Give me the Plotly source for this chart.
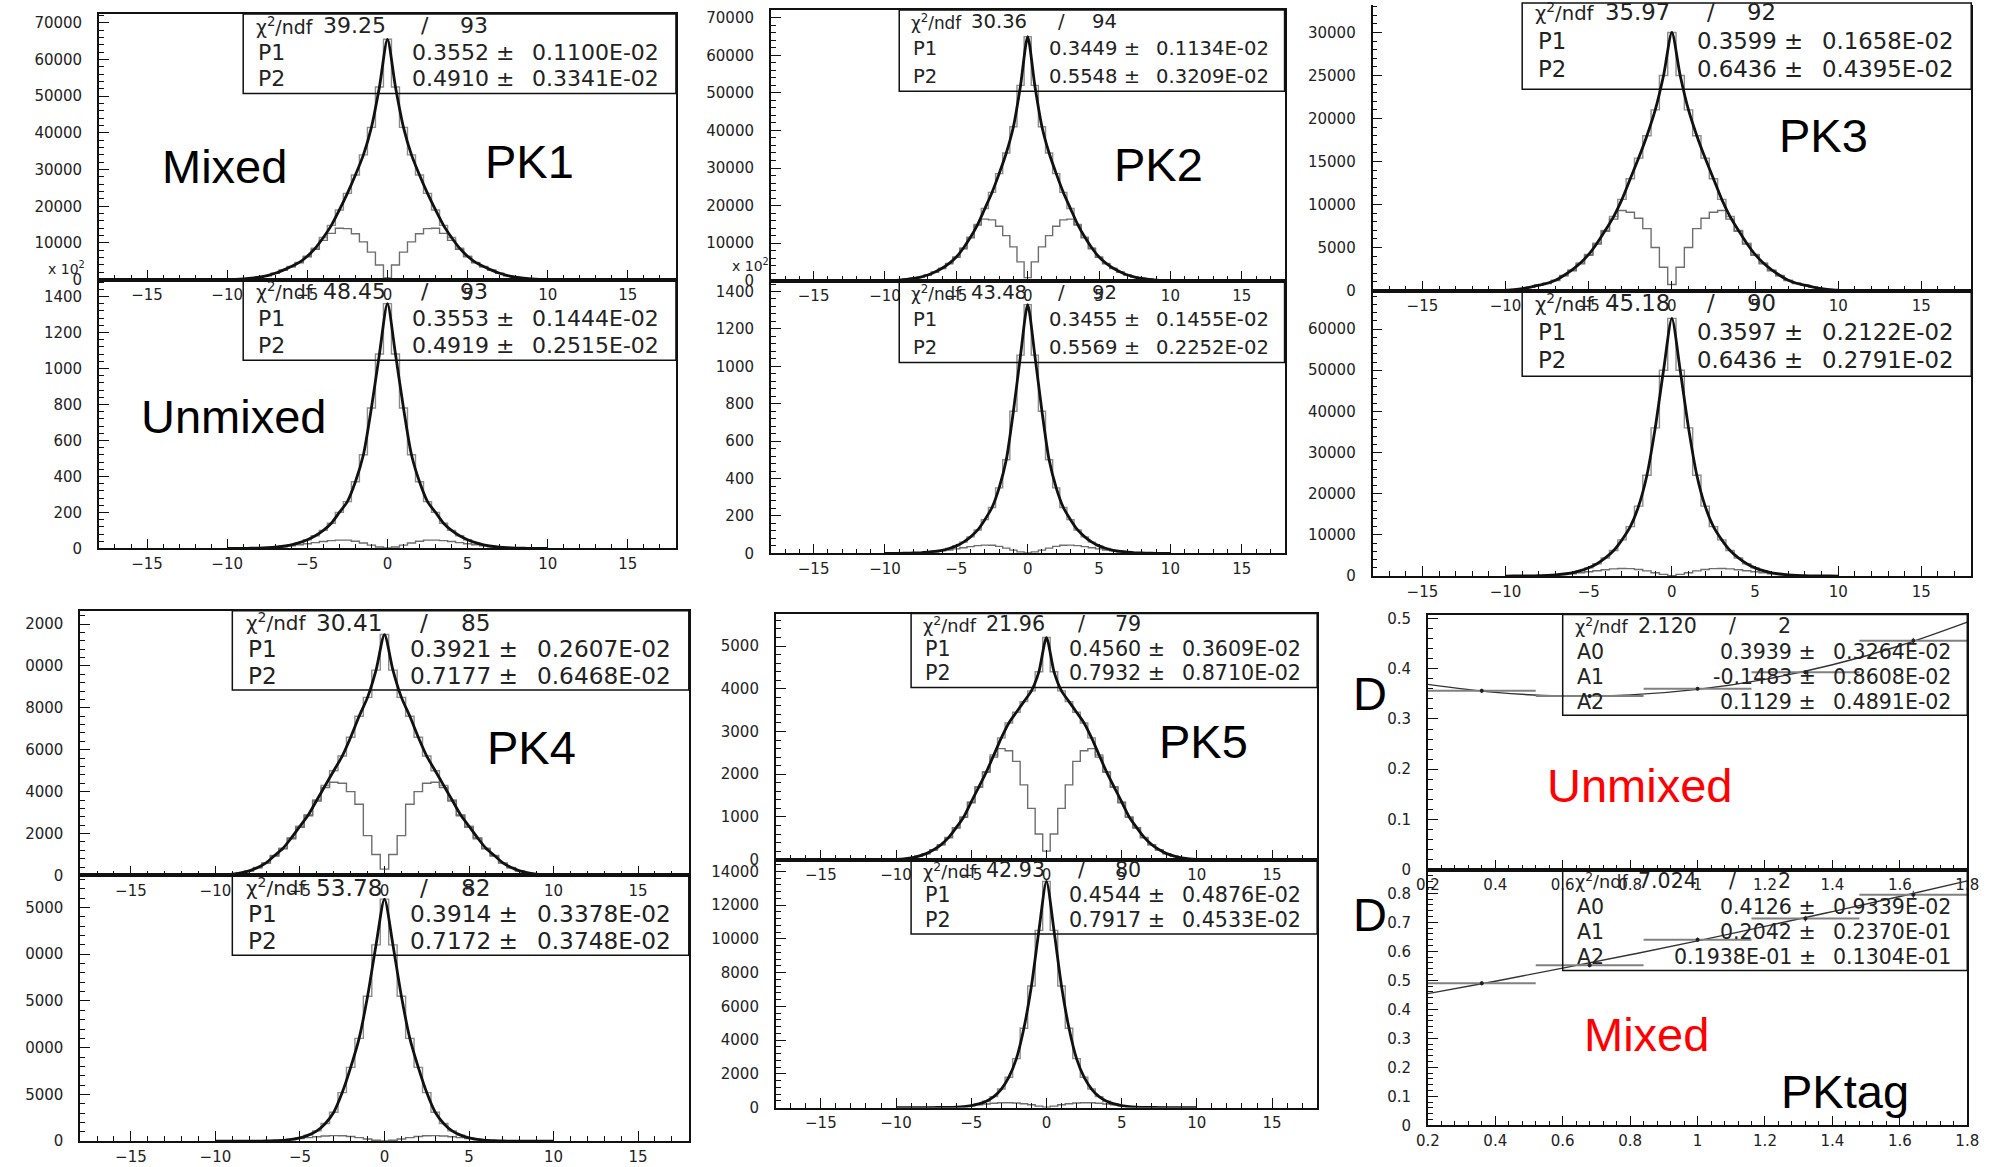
import plotly.graph_objects as go

W, H = 2003, 1167

# ---------------- data ----------------
BIN_CENTRES = [round(-10 + 0.5 * i, 1) for i in range(41)]

PK1_MIX_MAIN = [30, 90, 200, 400, 680, 1100, 1750, 2600, 3600, 4700, 6400, 8600, 11500, 14800, 19000, 23500, 28500, 34000, 41500, 52500,
                65500,
                52500, 41500, 34000, 28500, 23500, 19000, 14800, 11500, 8600, 6400, 4700, 3600, 2600, 1750, 1100, 680, 400, 200, 90, 30]
PK1_MIX_DIP = [30, 85, 195, 390, 660, 1070, 1700, 2550, 3500, 4600, 6200, 8300, 10700, 12600, 14000, 13900, 12500, 10300, 7500, 4000,
               500,
               4000, 7500, 10300, 12500, 13900, 14000, 12600, 10700, 8300, 6200, 4600, 3500, 2550, 1700, 1070, 660, 390, 195, 85, 30]
PK1_UNMIX_MAIN = [0, 0, 0, 1, 2, 4, 7, 12, 20, 32, 48, 70, 100, 140, 200, 260, 370, 520, 780, 1080,
                  1360,
                  1080, 780, 520, 370, 260, 200, 140, 100, 70, 48, 32, 20, 12, 7, 4, 2, 1, 0, 0, 0]
PK1_UNMIX_DIP = [0, 0, 0, 1, 2, 4, 6, 9, 14, 20, 26, 32, 38, 43, 46, 46, 40, 30, 18, 8,
                 2,
                 8, 18, 30, 40, 46, 46, 43, 38, 32, 26, 20, 14, 9, 6, 4, 2, 1, 0, 0, 0]

PK2_MIX_MAIN = [30, 70, 160, 320, 580, 950, 1500, 2300, 3300, 4600, 6300, 8700, 11600, 15000, 19200, 23500, 28500, 34000, 41000, 52000,
                65000,
                52000, 41000, 34000, 28500, 23500, 19200, 15000, 11600, 8700, 6300, 4600, 3300, 2300, 1500, 950, 580, 320, 160, 70, 30]
PK2_MIX_DIP = [30, 70, 155, 315, 570, 940, 1480, 2250, 3200, 4500, 6200, 8500, 11400, 14800, 16400, 16200, 14500, 12000, 9000, 5000,
               800,
               5000, 9000, 12000, 14500, 16200, 16400, 14800, 11400, 8500, 6200, 4500, 3200, 2250, 1480, 940, 570, 315, 155, 70, 30]
PK2_UNMIX_MAIN = [0, 0, 0, 1, 2, 3, 6, 10, 16, 26, 40, 60, 88, 125, 180, 245, 350, 500, 760, 1060,
                  1330,
                  1060, 760, 500, 350, 245, 180, 125, 88, 60, 40, 26, 16, 10, 6, 3, 2, 1, 0, 0, 0]
PK2_UNMIX_DIP = [0, 0, 0, 1, 2, 3, 5, 8, 13, 18, 24, 30, 36, 41, 44, 43, 37, 28, 17, 8,
                 2,
                 8, 17, 28, 37, 43, 44, 41, 36, 30, 24, 18, 13, 8, 5, 3, 2, 1, 0, 0, 0]

PK3_MIX_MAIN = [40, 110, 220, 400, 620, 850, 1200, 1750, 2400, 3200, 4200, 5500, 7000, 8600, 10600, 13000, 15400, 18000, 21000, 25000,
                30000,
                25000, 21000, 18000, 15400, 13000, 10600, 8600, 7000, 5500, 4200, 3200, 2400, 1750, 1200, 850, 620, 400, 220, 110, 40]
PK3_MIX_DIP = [40, 100, 210, 380, 600, 820, 1150, 1700, 2300, 3100, 4100, 5400, 6900, 8300, 9300, 9100, 8400, 7200, 5000, 2700,
               700,
               2700, 5000, 7200, 8400, 9100, 9300, 8300, 6900, 5400, 4100, 3100, 2300, 1700, 1150, 820, 600, 380, 210, 100, 40]
PK3_UNMIX_MAIN = [0, 10, 20, 50, 90, 170, 300, 500, 800, 1300, 2000, 3000, 4400, 6200, 8800, 12000, 17000, 24500, 36000, 50000,
                  62600,
                  50000, 36000, 24500, 17000, 12000, 8800, 6200, 4400, 3000, 2000, 1300, 800, 500, 300, 170, 90, 50, 20, 10, 0]
PK3_UNMIX_DIP = [0, 10, 20, 45, 85, 150, 240, 380, 560, 800, 1050, 1300, 1550, 1750, 1850, 1800, 1600, 1250, 800, 400,
                 100,
                 400, 800, 1250, 1600, 1800, 1850, 1750, 1550, 1300, 1050, 800, 560, 380, 240, 150, 85, 45, 20, 10, 0]

PK4_MIX_MAIN = [10, 25, 60, 120, 220, 380, 600, 950, 1300, 1800, 2350, 2900, 3600, 4300, 5000, 5700, 6600, 7600, 8500, 9800,
                11500,
                9800, 8500, 7600, 6600, 5700, 5000, 4300, 3600, 2900, 2350, 1800, 1300, 950, 600, 380, 220, 120, 60, 25, 10]
PK4_MIX_DIP = [10, 24, 58, 118, 215, 370, 590, 930, 1270, 1750, 2300, 2850, 3550, 4200, 4450, 4400, 4000, 3400, 1900, 1000,
               300,
               1000, 1900, 3400, 4000, 4400, 4450, 4200, 3550, 2850, 2300, 1750, 1270, 930, 590, 370, 215, 118, 58, 24, 10]
PK4_UNMIX_MAIN = [0, 0, 1, 2, 5, 12, 25, 50, 100, 190, 360, 650, 1100, 1900, 3100, 5200, 7900, 11000, 15500, 21000,
                  25900,
                  21000, 15500, 11000, 7900, 5200, 3100, 1900, 1100, 650, 360, 190, 100, 50, 25, 12, 5, 2, 1, 0, 0]
PK4_UNMIX_DIP = [0, 0, 1, 2, 5, 12, 25, 50, 100, 190, 280, 380, 480, 560, 600, 580, 500, 380, 230, 100,
                 20,
                 100, 230, 380, 500, 580, 600, 560, 480, 380, 280, 190, 100, 50, 25, 12, 5, 2, 1, 0, 0]

PK5_MIX_MAIN = [5, 15, 40, 80, 140, 230, 350, 520, 750, 1000, 1350, 1700, 2050, 2450, 2850, 3200, 3450, 3700, 3950, 4400,
                5200,
                4400, 3950, 3700, 3450, 3200, 2850, 2450, 2050, 1700, 1350, 1000, 750, 520, 350, 230, 140, 80, 40, 15, 5]
PK5_MIX_DIP = [5, 15, 38, 78, 138, 225, 345, 510, 740, 990, 1330, 1700, 2050, 2400, 2600, 2550, 2300, 1750, 1200, 600,
               200,
               600, 1200, 1750, 2300, 2550, 2600, 2400, 2050, 1700, 1330, 990, 740, 510, 345, 225, 138, 78, 38, 15, 5]
PK5_UNMIX_MAIN = [0, 0, 0, 1, 2, 4, 8, 15, 30, 60, 120, 220, 380, 650, 1100, 1800, 2900, 4700, 7200, 10500,
                  13400,
                  10500, 7200, 4700, 2900, 1800, 1100, 650, 380, 220, 120, 60, 30, 15, 8, 4, 2, 1, 0, 0, 0]
PK5_UNMIX_DIP = [0, 0, 0, 1, 2, 4, 8, 15, 30, 55, 100, 160, 210, 260, 290, 290, 270, 230, 170, 90,
                 20,
                 90, 170, 230, 270, 290, 290, 260, 210, 160, 100, 55, 30, 15, 8, 4, 2, 1, 0, 0, 0]

TAG_X = [0.36, 0.68, 1.00, 1.32, 1.64]
TAG_HALF_WIDTH = [0.16, 0.16, 0.16, 0.16, 0.16]
TAG_UNMIX = [0.356, 0.346, 0.360, 0.393, 0.456]
TAG_UNMIX_ERR = [0.004, 0.003, 0.003, 0.004, 0.006]
TAG_MIX = [0.490, 0.552, 0.640, 0.713, 0.795]
TAG_MIX_ERR = [0.008, 0.007, 0.008, 0.010, 0.014]
FIT_X = [0.2, 0.4, 0.6, 0.8, 1.0, 1.2, 1.4, 1.6, 1.8]
FIT_UNMIX = [0.369, 0.353, 0.346, 0.348, 0.359, 0.379, 0.408, 0.446, 0.493]
FIT_MIX = [0.454, 0.497, 0.542, 0.588, 0.636, 0.686, 0.737, 0.789, 0.843]

STATS = {
    'pk1_mix': [('39.25', '93'), ('P1', '0.3552', '0.1100E-02'), ('P2', '0.4910', '0.3341E-02')],
    'pk1_unmix': [('48.45', '93'), ('P1', '0.3553', '0.1444E-02'), ('P2', '0.4919', '0.2515E-02')],
    'pk2_mix': [('30.36', '94'), ('P1', '0.3449', '0.1134E-02'), ('P2', '0.5548', '0.3209E-02')],
    'pk2_unmix': [('43.48', '92'), ('P1', '0.3455', '0.1455E-02'), ('P2', '0.5569', '0.2252E-02')],
    'pk3_mix': [('35.97', '92'), ('P1', '0.3599', '0.1658E-02'), ('P2', '0.6436', '0.4395E-02')],
    'pk3_unmix': [('45.18', '90'), ('P1', '0.3597', '0.2122E-02'), ('P2', '0.6436', '0.2791E-02')],
    'pk4_mix': [('30.41', '85'), ('P1', '0.3921', '0.2607E-02'), ('P2', '0.7177', '0.6468E-02')],
    'pk4_unmix': [('53.78', '82'), ('P1', '0.3914', '0.3378E-02'), ('P2', '0.7172', '0.3748E-02')],
    'pk5_mix': [('21.96', '79'), ('P1', '0.4560', '0.3609E-02'), ('P2', '0.7932', '0.8710E-02')],
    'pk5_unmix': [('42.93', '80'), ('P1', '0.4544', '0.4876E-02'), ('P2', '0.7917', '0.4533E-02')],
    'tag_unmix': [('2.120', '2'), ('A0', '0.3939', '0.3264E-02'), ('A1', '-0.1483', '0.8608E-02'),
                  ('A2', '0.1129', '0.4891E-02')],
    'tag_mix': [('7.024', '2'), ('A0', '0.4126', '0.9339E-02'), ('A1', '0.2042', '0.2370E-01'),
                ('A2', '0.1938E-01', '0.1304E-01')],
}

# panel geometry in page pixels: x0, x1, ytop, ybottom ; y-range max ; y major step ; text shift
HIST_PANELS = [
    ('pk1_mix', (88, 672, 9, 278), 72420, 10000, PK1_MIX_MAIN, PK1_MIX_DIP, -3),
    ('pk1_unmix', (88, 672, 278, 550), 1493, 200, PK1_UNMIX_MAIN, PK1_UNMIX_DIP, -3),
    ('pk2_mix', (768, 1288, 5, 279), 72100, 10000, PK2_MIX_MAIN, PK2_MIX_DIP, -3),
    ('pk2_unmix', (768, 1288, 279, 555), 1458, 200, PK2_UNMIX_MAIN, PK2_UNMIX_DIP, -3),
    ('pk3_mix', (1377, 1983, -2, 289), 33200, 5000, PK3_MIX_MAIN, PK3_MIX_DIP, -7),
    ('pk3_unmix', (1377, 1983, 289, 578), 69360, 10000, PK3_UNMIX_MAIN, PK3_UNMIX_DIP, -3),
    ('pk4_mix', (69, 685, 613, 881), 12640, 2000, PK4_MIX_MAIN, PK4_MIX_DIP, -3),
    ('pk4_unmix', (69, 685, 881, 1150), 28430, 5000, PK4_UNMIX_MAIN, PK4_UNMIX_DIP, -3),
    ('pk5_mix', (773, 1321, 616, 865), 5760, 1000, PK5_MIX_MAIN, PK5_MIX_DIP, -3),
    ('pk5_unmix', (773, 1321, 865, 1116), 14690, 2000, PK5_UNMIX_MAIN, PK5_UNMIX_DIP, -3),
]
TAG_PANELS = [
    ('tag_unmix', (1433, 1979, 617, 875), 0.508, TAG_UNMIX, TAG_UNMIX_ERR, FIT_UNMIX),
    ('tag_mix', (1433, 1979, 875, 1134), 0.882, TAG_MIX, TAG_MIX_ERR, FIT_MIX),
]

fig = go.Figure()
TICKFONT = dict(family='DejaVu Sans', size=15, color='#222')
AXCOL = '#111'


def px_x(x):
    return x / W


def px_y(y):
    return 1 - y / H


def set_axes(i, geom, xr, yr, xdt, x0tick, ydt, xminor, yminor, yfmt):
    x0, x1, yt, yb = geom
    xa = 'xaxis' if i == 1 else f'xaxis{i}'
    ya = 'yaxis' if i == 1 else f'yaxis{i}'
    xref = 'x' if i == 1 else f'x{i}'
    yref = 'y' if i == 1 else f'y{i}'
    common = dict(showline=True, linecolor=AXCOL, linewidth=1.6, showgrid=False,
                  zeroline=False, ticks='inside', ticklen=10, tickwidth=1.2, tickcolor=AXCOL,
                  tickfont=TICKFONT, fixedrange=True)
    fig.update_layout(**{
        xa: dict(domain=[px_x(x0), px_x(x1)], range=xr, anchor=yref, dtick=xdt, tick0=x0tick,
                 mirror=(yt >= 0),
                 minor=dict(ticks='inside', ticklen=5, dtick=xminor, tick0=x0tick, tickcolor=AXCOL,
                            showgrid=False),
                 ticklabelstandoff=1, **common),
        ya: dict(domain=[px_y(yb), min(1.0, px_y(yt))], range=yr, anchor=xref, dtick=ydt, tick0=0,
                 tickformat=yfmt, mirror=True,
                 minor=dict(ticks='inside', ticklen=5, dtick=yminor, tick0=0, tickcolor=AXCOL,
                            showgrid=False),
                 ticklabelstandoff=12, **common),
    })
    return xref, yref


def ann(x, y, text, size, xanchor='left', color='#222', family='DejaVu Sans'):
    fig.add_annotation(x=px_x(x), y=px_y(y), xref='paper', yref='paper', text=text,
                       showarrow=False, xanchor=xanchor, yanchor='middle',
                       font=dict(family=family, size=size, color=color))


shapes = []


def stats_box(geom, rows, frac, shift):
    x0, x1, yt, yb = geom
    pw = x1 - x0
    bx0 = x0 + 0.25 * pw
    bx1 = x1
    bw = bx1 - bx0
    by0 = yt
    by1 = yt + frac * (yb - yt)
    shapes.append(dict(type='rect', xref='paper', yref='paper', x0=px_x(bx0), x1=px_x(bx1),
                       y0=px_y(by1), y1=px_y(by0), line=dict(color=AXCOL, width=1.5),
                       fillcolor='rgba(0,0,0,0)', layer='above'))
    fs = 22 * pw / 584
    rh = (by1 - by0) / len(rows)
    for k, row in enumerate(rows):
        yc = by0 + rh * (k + 0.55) + shift
        if k == 0:
            chi2, ndf = row
            ann(bx0 + 0.025 * bw, yc, 'χ<sup>2</sup>/ndf', fs * 0.86)
            ann(bx0 + 0.18 * bw, yc, chi2, fs)
            ann(bx0 + 0.42 * bw, yc, '/', fs, 'center')
            ann(bx0 + 0.57 * bw, yc, ndf, fs, 'right')
        else:
            name, val, err = row
            ann(bx0 + 0.03 * bw, yc, name, fs)
            ann(bx1 - 0.37 * bw, yc, val + ' ±', fs, 'right')
            ann(bx1 - 0.035 * bw, yc, err, fs, 'right')


i = 0
for key, geom, ymax, ydt, main, dip, shift in HIST_PANELS:
    i += 1
    xr, yr = set_axes(i, geom, [-18, 18], [0, ymax], 5, 0, ydt, 1, ydt / 5, 'd')
    fig.add_trace(go.Scatter(x=BIN_CENTRES, y=main, mode='lines', xaxis=xr, yaxis=yr,
                             line=dict(shape='hvh', color='#8c8c8c', width=1.4), hoverinfo='skip'))
    fig.add_trace(go.Scatter(x=BIN_CENTRES, y=dip, mode='lines', xaxis=xr, yaxis=yr,
                             line=dict(shape='hvh', color='#6e6e6e', width=1.4), hoverinfo='skip'))
    fig.add_trace(go.Scatter(x=BIN_CENTRES, y=main, mode='lines', xaxis=xr, yaxis=yr,
                             line=dict(shape='spline', smoothing=0.7, color='#111', width=2.8),
                             hoverinfo='skip'))
    stats_box(geom, STATS[key], 0.30, shift)

for key, geom, ymax, vals, errs, fit in TAG_PANELS:
    i += 1
    xr, yr = set_axes(i, geom, [0.2, 1.8], [0, ymax], 0.2, 0.2, 0.1, 0.04, 0.02, '')
    fig.add_trace(go.Scatter(x=FIT_X, y=fit, mode='lines', xaxis=xr, yaxis=yr,
                             line=dict(shape='spline', color='#333', width=1.4), hoverinfo='skip'))
    fig.add_trace(go.Scatter(x=TAG_X, y=vals, mode='markers', xaxis=xr, yaxis=yr,
                             marker=dict(size=4, color='#222'),
                             error_x=dict(type='data', array=TAG_HALF_WIDTH, width=0, thickness=2,
                                          color='#808080'),
                             error_y=dict(type='data', array=errs, width=0, thickness=1.2,
                                          color='#555'),
                             hoverinfo='skip'))
    stats_box(geom, STATS[key], 0.395, -2)

# exponent labels
ann(55, 266, 'x 10<sup>2</sup>', 14, 'center')
ann(747, 263, 'x 10<sup>2</sup>', 14, 'center')

# big labels
BIG = 47
LAB = 'Liberation Sans'
ann(215, 163, 'Mixed', BIG, 'center', '#000', LAB)
ann(524, 158, 'PK1', BIG, 'center', '#000', LAB)
ann(224, 417, 'Unmixed', BIG, 'center', '#000', LAB)
ann(1160, 161, 'PK2', BIG, 'center', '#000', LAB)
ann(1833, 132, 'PK3', BIG, 'center', '#000', LAB)
ann(526, 752, 'PK4', BIG, 'center', '#000', LAB)
ann(1206, 745, 'PK5', BIG, 'center', '#000', LAB)
ann(1374, 697, 'D', BIG, 'center', '#000', LAB)
ann(1374, 921, 'D', BIG, 'center', '#000', LAB)
ann(1647, 790, 'Unmixed', BIG, 'center', '#ff0000', LAB)
ann(1654, 1042, 'Mixed', BIG, 'center', '#ff0000', LAB)
ann(1855, 1100, 'PKtag', BIG, 'center', '#000', LAB)

# the original picture is cropped at its left edge in the lower row
shapes.append(dict(type='rect', xref='paper', yref='paper', x0=0, x1=px_x(13.5), y0=0, y1=px_y(600),
                   fillcolor='white', line=dict(width=0), layer='above'))

fig.update_layout(width=W, height=H, margin=dict(l=0, r=0, t=0, b=0), paper_bgcolor='white',
                  plot_bgcolor='white', showlegend=False, shapes=shapes, hovermode=False)

fig.write_html('out.html')
